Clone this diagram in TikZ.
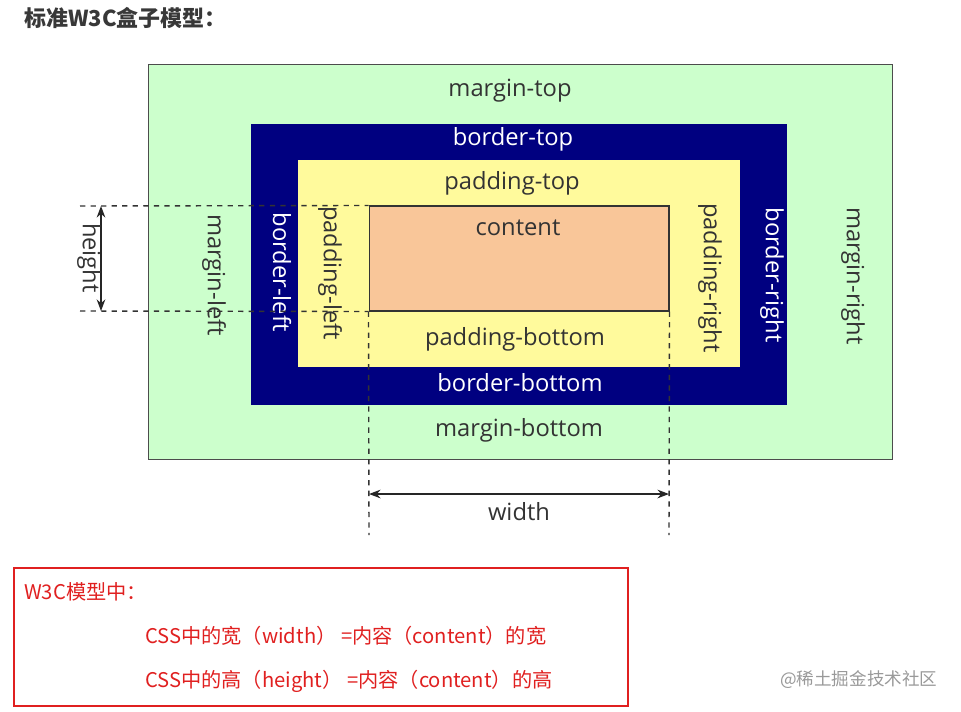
\documentclass[tikz,border=0pt]{standalone}
\usepackage{fontspec}
\setmainfont{Open Sans}
\newfontfamily\cjk{Noto Sans CJK SC}
\usepackage{xcolor}
\usetikzlibrary{arrows.meta}
\definecolor{verdemargem}{HTML}{CCFFCC}
\definecolor{azulborda}{HTML}{000080}
\definecolor{amarelopad}{HTML}{FFFA9C}
\definecolor{pessego}{HTML}{F9C699}
\definecolor{vermelho}{HTML}{E02020}
\tikzset{
  camada/.style={draw=#1, inner sep=0pt, line width=0.6pt},
  rotulo/.style={font=\fontsize{13.5}{15}\selectfont, text=black!80},
  rotulob/.style={font=\fontsize{13.5}{15}\selectfont, text=white},
  tracejado/.style={dashed, black!80, line width=0.8pt},
  cota/.style={{Stealth}-{Stealth}, black!85, line width=0.8pt},
  nota/.style={font=\cjk\fontsize{11.5}{14}\selectfont, text=vermelho, anchor=west},
}

\begin{document}
\begin{tikzpicture}[x=0.02cm, y=-0.02cm]
  \useasboundingbox (0,0) rectangle (961,711);

  % as quatro camadas do modelo
  \node[camada=black!70, fill=verdemargem, minimum width=14.9cm, minimum height=7.92cm] (margem) at (520.5,262) {};
  \node[camada=azulborda, fill=azulborda, minimum width=10.72cm, minimum height=5.6cm] (borda) at (519,264) {};
  \node[camada=amarelopad, fill=amarelopad, minimum width=8.84cm, minimum height=4.1cm] (padding) at (519,263.5) {};
  \node[camada=black!80, fill=pessego, minimum width=6cm, minimum height=2.1cm] (conteudo) at (519,258.5) {};

  % textos
  \node[rotulo] (mtop) at (510,91) {margin-top};
  \node[rotulob] (btop) at (513,139) {border-top};
  \node[rotulo] (ptop) at (512,183) {padding-top};
  \node[rotulo] (ctxt) at (518,228) {content};
  \node[rotulo] (pbot) at (515,339) {padding-bottom};
  \node[rotulob] (bbot) at (520,383) {border-bottom};
  \node[rotulo] (mbot) at (519,430) {margin-bottom};
  \node[rotulo, rotate=-90] (mleft) at (214,275) {margin-left};
  \node[rotulob, rotate=-90] (bleft) at (282,272) {border-left};
  \node[rotulo, rotate=-90] (pleft) at (330,273) {padding-left};
  \node[rotulo, rotate=-90] (pright) at (710,278) {padding-right};
  \node[rotulob, rotate=-90] (bright) at (772,275) {border-right};
  \node[rotulo, rotate=-90] (mright) at (853,276) {margin-right};

  % linhas de cota
  \coordinate (hA) at (80,206);
  \coordinate (hB) at (80,311);
  \coordinate (wA) at (369,535);
  \coordinate (wB) at (669,535);
  \draw[tracejado] (hA) -- (conteudo.north west);
  \draw[tracejado] (hB) -- (conteudo.south west);
  \draw[tracejado] (conteudo.south west) -- (wA);
  \draw[tracejado] (conteudo.south east) -- (wB);

  \coordinate (alt1) at (101,206);
  \coordinate (alt2) at (101,311);
  \coordinate (larg1) at (369,494);
  \coordinate (larg2) at (669,494);
  \draw[cota] (alt1) -- (alt2);
  \draw[cota] (larg1) -- (larg2);
  \node[rotulo, rotate=-90] (hlabel) at (89,258) {height};
  \node[rotulo] (wlabel) at (519,512) {width};

  % titulo e nota
  \node[font=\cjk\bfseries\fontsize{12.5}{15}\selectfont, text=black!78, anchor=west] (titulo) at (18,18) {标准W3C盒子模型：};
  \node[draw=vermelho, line width=1.6pt, minimum width=12.28cm, minimum height=2.76cm, inner sep=0pt] (caixanota) at (321,637) {};
  \node[nota] (n1) at (18,592) {W3C模型中：};
  \node[nota] (n2) at (139,636) {CSS中的宽（width） =内容（content）的宽};
  \node[nota] (n3) at (139,681) {CSS中的高（height） =内容（content）的高};
  \node[font=\cjk\fontsize{10}{12}\selectfont, text=black!40, anchor=west] (marca) at (774,680) {@稀土掘金技术社区};
\end{tikzpicture}
\end{document}
